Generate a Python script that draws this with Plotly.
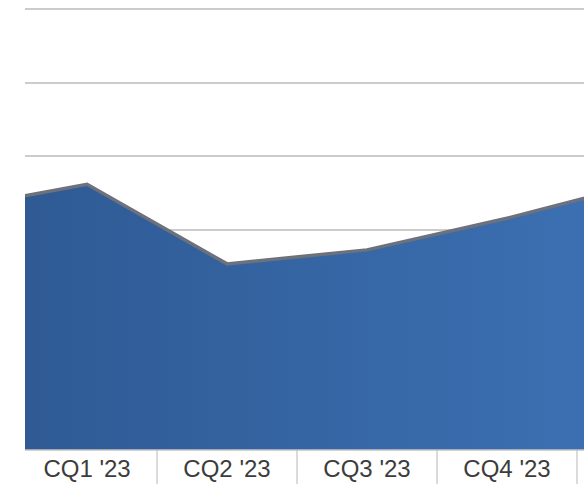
import plotly.graph_objects as go

# Quarter labels (first and last lie outside the visible window)
quarters = ["CQ4 '22", "CQ1 '23", "CQ2 '23", "CQ3 '23", "CQ4 '23", "CQ1 '24"]
positions = [-1, 0, 1, 2, 3, 4]
values = [32.7, 36.2, 25.4, 27.3, 31.6, 36.5]

fig = go.Figure()
fig.add_trace(go.Scatter(
    x=positions, y=values, mode="lines",
    line=dict(color="#6c717c", width=3.5),
    fill="tozeroy",
    fillgradient=dict(type="horizontal",
                      colorscale=[[0, "#2d5790"], [1, "#3d72b5"]]),
    hoverinfo="skip", showlegend=False,
))

# category box dividers
for k in range(len(positions) - 1):
    b = positions[k] + 0.5
    fig.add_shape(type="line", xref="x", yref="paper", x0=b, x1=b,
                  y0=-34 / 450, y1=0, line=dict(color="#cfcfcf", width=1.5))
fig.add_shape(type="line", xref="paper", yref="paper", x0=0, x1=1, y0=0, y1=0,
              line=dict(color="#c4c4c4", width=1.5))

fig.update_layout(
    width=584, height=484,
    margin=dict(l=25, r=0, t=0, b=34),
    paper_bgcolor="white", plot_bgcolor="white",
    xaxis=dict(range=[-0.443, 3.55], tickvals=positions, ticktext=quarters,
               showgrid=False, zeroline=False, showline=False, ticks="",
               ticklabelstandoff=2,
               tickfont=dict(family="Liberation Sans, Arial", size=24, color="#3c3c3c")),
    yaxis=dict(range=[0.136, 61.22], tickvals=[0, 10, 20, 30, 40, 50, 60],
               showticklabels=False, showgrid=True, gridcolor="#cccccc", gridwidth=2,
               zeroline=False, showline=False, ticks=""),
)

fig.write_html("out.html")
